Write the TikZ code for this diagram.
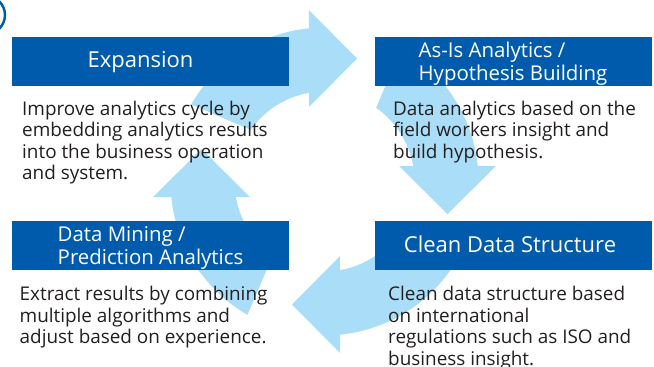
\documentclass[tikz,border=0pt]{standalone}
\usepackage{fontspec}
\setmainfont{Open Sans}
\definecolor{boxblue}{RGB}{0,91,172}
\definecolor{cyclecol}{RGB}{170,222,248}
\definecolor{bodygray}{RGB}{35,31,32}

\begin{document}
\begin{tikzpicture}[x=1pt, y=-1pt,
    headbox/.style={fill=boxblue, minimum width=277pt, minimum height=49pt, inner sep=0pt},
    title/.style={text=white, inner sep=0pt, align=left, font=\fontsize{20.4}{22.5}\selectfont},
    bigtitle/.style={title, anchor=base, font=\fontsize{22}{24}\selectfont},
    body/.style={text=bodygray, inner sep=0pt, anchor=north west, align=left, font=\fontsize{18.9}{21.5}\selectfont}]
    \useasboundingbox (0,0) rectangle (654,367);
    % cut-off circled number at the corner
    \draw[boxblue, line width=2.5pt] (-14,15) circle[radius=19pt];
    % four arrows of the cycle, one shape turned by 90 degrees each time
    \begin{scope}[shift={(324.5,181.5)}, yscale=-1]
        \foreach \k in {0,...,3} {
            \fill[cyclecol, rotate=-90*\k] (150:154) arc[start angle=150, end angle=95.8, radius=154]
                -- (-15.5,171.5) -- (32.5,123) -- (-15.5,74.5) -- (99.9:90)
                arc[start angle=99.9, end angle=145, radius=90] -- cycle;
        }
    \end{scope}
    % heading boxes
    \node[headbox] (expBox) at (150.5,61.5) {};
    \node[headbox] (asisBox) at (513,61.5) {};
    \node[headbox] (mineBox) at (150.5,245.5) {};
    \node[headbox] (cleanBox) at (513,245.5) {};
    \node[bigtitle] (expTitle) at (140.5,67.7) {Expansion};
    \node[title] (asisTitle) at ([yshift=-2pt]asisBox.center) {As-Is Analytics /\\Hypothesis Building};
    \node[title] (mineTitle) at ([yshift=-2.5pt]mineBox.center) {Data Mining /\\Prediction Analytics};
    \node[bigtitle] (cleanTitle) at (510,252.7) {Clean Data Structure};
    % texts under the boxes
    \node[body] (expText) at (22,100.6) {Improve analytics cycle by\\embedding analytics results\\into the business operation\\and system.};
    \node[body] (asisText) at (393,100.6) {Data analytics based on the\\field workers insight and\\build hypothesis.};
    \node[body] (mineText) at (19.5,286.3) {Extract results by combining\\multiple algorithms and\\adjust based on experience.};
    \node[body] (cleanText) at (388,286.3) {Clean data structure based\\on international\\regulations such as ISO and\\business insight.};
\end{tikzpicture}
\end{document}
